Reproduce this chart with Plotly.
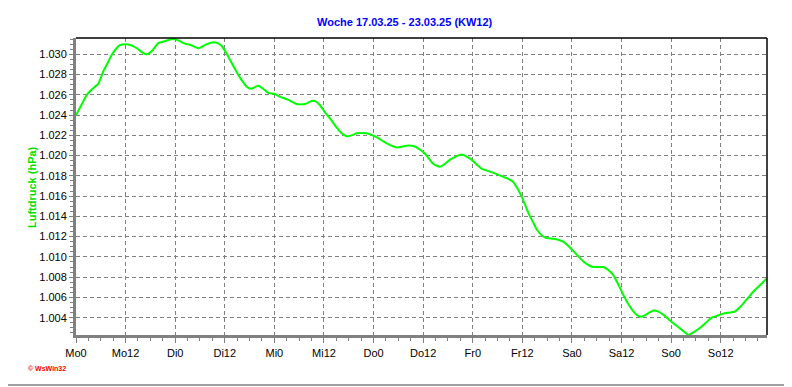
import plotly.graph_objects as go

# Hours since Monday 00:00 and air pressure (displayed as 1.0xx like the original)
hours = [0, 1.3, 2.6, 4.0, 5.4, 6.6, 7.6, 8.6, 9.6, 10.6, 11.9, 13.3, 14.7, 16.0, 17.1, 18.3,
         19.9, 21.5, 23.2, 24.6, 26.0, 27.8, 29.6, 31.6, 33.2, 34.3, 35.3, 36.4, 37.6, 38.8,
         40.0, 41.3, 42.3, 44.1, 45.3, 46.5, 47.9, 49.4, 51.4, 53.4, 55.4, 57.0, 57.8, 59.0,
         60.2, 61.6, 63.0, 64.3, 65.5, 66.7, 67.9, 70.3, 72.8, 75.2, 77.6, 79.0, 80.4, 82.0,
         83.2, 84.4, 85.4, 86.4, 88.0, 89.3, 90.5, 91.9, 93.3, 94.5, 95.7, 97.0, 98.2, 99.6,
         101.0, 103.4, 104.6, 105.8, 106.9, 107.9, 108.7, 109.5, 110.5, 111.5, 112.5, 113.5,
         115.5, 116.7, 117.9, 119.1, 120.3, 121.9, 122.9, 124.0, 125.1, 127.6, 128.8, 130.0,
         131.2, 132.5, 133.7, 134.9, 135.9, 136.9, 138.3, 139.7, 140.9, 142.1, 143.5, 145.0,
         146.6, 148.2, 149.6, 151.0, 152.4, 153.8, 155.2, 156.6, 158.0, 159.4, 160.8, 162.3,
         163.5, 164.7, 166.0, 167.2]
pressure = [1.0240, 1.0250, 1.0260, 1.0266, 1.0271, 1.0283, 1.0291, 1.0299, 1.0305, 1.0309,
            1.0310, 1.0309, 1.0306, 1.0302, 1.0300, 1.0303, 1.0311, 1.0313, 1.0315, 1.0314,
            1.0311, 1.0309, 1.0306, 1.0310, 1.0312, 1.0311, 1.0308, 1.0301, 1.0292, 1.0283,
            1.0275, 1.0268, 1.0266, 1.0269, 1.0266, 1.0262, 1.0261, 1.0258, 1.0255, 1.0251,
            1.0251, 1.0254, 1.0254, 1.0250, 1.0243, 1.0236, 1.0228, 1.0222, 1.0219, 1.0220,
            1.0222, 1.0222, 1.0218, 1.0212, 1.0208, 1.0209, 1.0210, 1.0209, 1.0206, 1.0202,
            1.0197, 1.0192, 1.0189, 1.0192, 1.0196, 1.0199, 1.0201, 1.0199, 1.0196, 1.0191,
            1.0187, 1.0185, 1.0183, 1.0179, 1.0177, 1.0174, 1.0167, 1.0159, 1.0151, 1.0143,
            1.0135, 1.0127, 1.0122, 1.0119, 1.0118, 1.0117, 1.0115, 1.0111, 1.0106, 1.0099,
            1.0095, 1.0092, 1.0090, 1.0090, 1.0087, 1.0082, 1.0073, 1.0062, 1.0053, 1.0046,
            1.0042, 1.0041, 1.0044, 1.0047, 1.0046, 1.0043, 1.0038, 1.0033, 1.0028, 1.0023,
            1.0026, 1.0030, 1.0035, 1.0040, 1.0042, 1.0044, 1.0045, 1.0046, 1.0051, 1.0058,
            1.0064, 1.0069, 1.0074, 1.0079]

x_tickvals = [0, 12, 24, 36, 48, 60, 72, 84, 96, 108, 120, 132, 144, 156]
x_ticktext = ["Mo0", "Mo12", "Di0", "Di12", "Mi0", "Mi12", "Do0", "Do12",
              "Fr0", "Fr12", "Sa0", "Sa12", "So0", "So12"]
y_tickvals = [1.004, 1.006, 1.008, 1.010, 1.012, 1.014, 1.016, 1.018,
              1.020, 1.022, 1.024, 1.026, 1.028, 1.030]

title_text = "Woche 17.03.25 - 23.03.25 (KW12)"
y_title = "Luftdruck (hPa)"

# The page body adds an 8px margin, so the figure is made 8px smaller and shifted.
OFF = 8
W, H = 792 - OFF, 387 - OFF
L, R, T, B = 76 - OFF, 25, 38 - OFF, 52
pw, ph = W - L - R, H - T - B
PL, PB = 76, 335  # plot area left / bottom in page pixels

def px_x(px):
    return (px - PL) / pw

def px_y(py):
    return (PB - py) / ph

fig = go.Figure()
fig.add_trace(go.Scatter(x=hours, y=pressure, mode="lines",
                         line=dict(color="#00FF00", width=2, shape="spline", smoothing=0.5),
                         hoverinfo="skip", showlegend=False))

font = "Arial, Liberation Sans, sans-serif"
fig.update_layout(
    width=W, height=H, autosize=False,
    margin=dict(l=L, r=R, t=T, b=B, pad=0),
    paper_bgcolor="white", plot_bgcolor="white",
    font=dict(family=font, size=11, color="black"),
    showlegend=False,
    xaxis=dict(range=[0, 167.2], tickmode="array", tickvals=x_tickvals, ticktext=x_ticktext,
               showline=True, linecolor="#808080", linewidth=3,
               ticks="outside", ticklen=5, tickcolor="#808080", tickwidth=1,
               ticklabelstandoff=1,
               showgrid=True, gridcolor="#808080", gridwidth=1, griddash="4px,3px",
               zeroline=False,
               minor=dict(tickmode="linear", tick0=0, dtick=3, ticks="outside", ticklen=3,
                          tickcolor="#808080", showgrid=False),
               tickfont=dict(family=font, size=11, color="black")),
    yaxis=dict(range=[1.00229, 1.03161], tickmode="array", tickvals=y_tickvals,
               tickformat=".3f",
               showline=True, linecolor="#808080", linewidth=3,
               ticks="outside", ticklen=4, tickcolor="#808080", tickwidth=1,
               showgrid=True, gridcolor="#808080", gridwidth=1, griddash="4px,3px",
               zeroline=False,
               minor=dict(tickmode="linear", tick0=1.0, dtick=0.0005, ticks="outside",
                          ticklen=3, tickcolor="#808080", showgrid=False),
               tickfont=dict(family=font, size=11, color="black")),
    shapes=[
        dict(type="line", xref="paper", yref="paper", x0=0, x1=1, y0=1, y1=1,
             line=dict(color="black", width=1.5)),
        dict(type="line", xref="paper", yref="paper", x0=1, x1=1, y0=0, y1=1,
             line=dict(color="black", width=1.5)),
        dict(type="line", xref="paper", yref="paper", x0=px_x(OFF), x1=px_x(790),
             y0=px_y(385), y1=px_y(385), line=dict(color="#a0a0a0", width=2)),
        dict(type="line", xref="paper", yref="paper", x0=px_x(789), x1=px_x(789),
             y0=px_y(OFF), y1=px_y(385), line=dict(color="#a0a0a0", width=2)),
    ],
    annotations=[
        dict(text="<b>" + title_text + "</b>", xref="paper", yref="paper",
             x=px_x(405), y=px_y(22), xanchor="center", yanchor="middle", showarrow=False,
             font=dict(family=font, size=11, color="#0000FF")),
        dict(text="<b>" + y_title + "</b>", xref="paper", yref="paper",
             x=px_x(32), y=px_y(187), xanchor="center", yanchor="middle", showarrow=False,
             textangle=-90, font=dict(family=font, size=11, color="#00E000")),
        dict(text="<b>© WsWin32</b>", xref="paper", yref="paper",
             x=px_x(26), y=px_y(368), xanchor="left", yanchor="middle", showarrow=False,
             font=dict(family=font, size=7, color="#FF0000")),
    ],
)

fig.write_html("out.html")
